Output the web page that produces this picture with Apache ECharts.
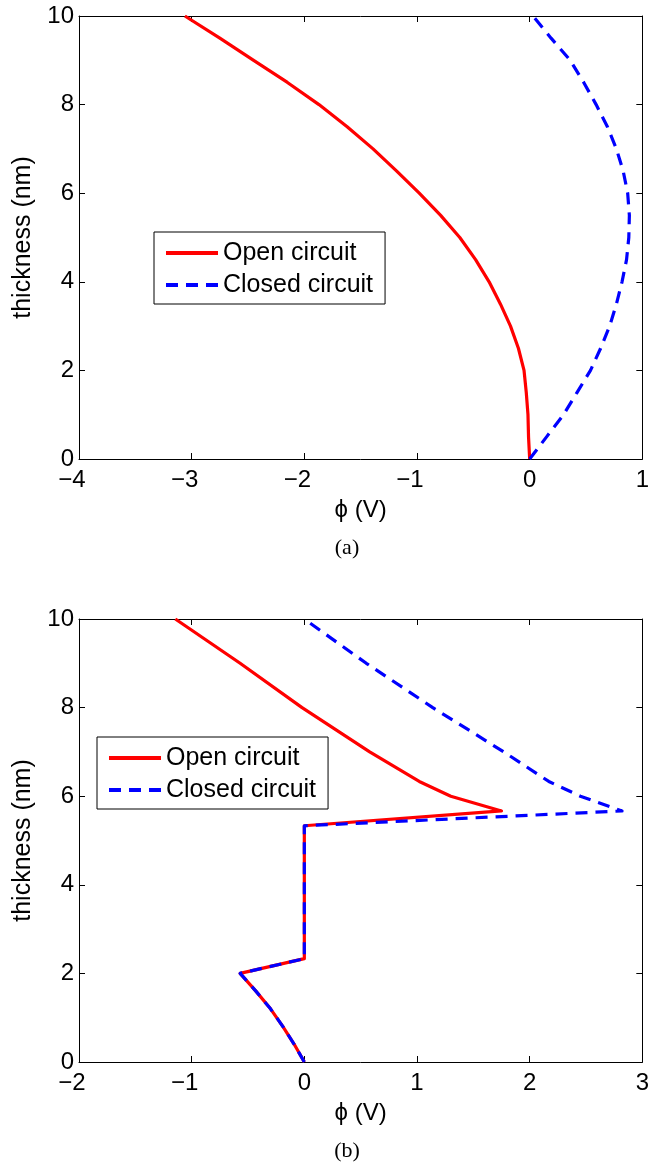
<!DOCTYPE html>
<html>
<head>
<meta charset="utf-8">
<script src="https://cdn.jsdelivr.net/npm/echarts@6/dist/echarts.min.js"></script>
<style>
html,body{margin:0;padding:0;background:#fff;}
#chart{width:652px;height:1172px;}
</style>
</head>
<body>
<div id="chart"></div>
<script>
// ---------- DATA ----------
// (a) thickness grid and potentials
var thicknessA = [0,0.5,1,1.5,2,2.5,3,3.5,4,4.5,5,5.5,6,6.5,7,7.5,8,8.5,9,9.5,10];
var openA   = [0,-0.01,-0.015,-0.03,-0.05,-0.10,-0.17,-0.26,-0.36,-0.48,-0.62,-0.79,-0.98,-1.18,-1.39,-1.62,-1.87,-2.15,-2.45,-2.75,-3.06];
var closedA = [0,0.15,0.30,0.42,0.54,0.63,0.71,0.77,0.82,0.86,0.88,0.885,0.87,0.83,0.77,0.69,0.59,0.48,0.36,0.19,0.03];

// (b)
var thicknessOpenB = [0,0.4,0.8,1.2,1.6,2.0,2.333,5.333,5.667,6.0,6.333,7.0,8.0,9.0,10.0];
var openB          = [0,-0.09,-0.19,-0.30,-0.43,-0.57,0,0,1.75,1.30,1.02,0.58,-0.02,-0.57,-1.145];
var thicknessClosedB = [0,0.4,0.8,1.2,1.6,2.0,2.333,5.333,5.667,6.0,6.333,7.0,8.0,9.0,10.0];
var closedB          = [0,-0.09,-0.19,-0.30,-0.43,-0.57,0,0,2.82,2.45,2.17,1.77,1.14,0.55,0];

var yTicks = [0,2,4,6,8,10];
var xRangeA = [-4,1];
var xRangeB = [-2,3];
var seriesNames = ['Open circuit','Closed circuit'];
var captions = ['(a)','(b)'];

function pairs(xs, ys){ return xs.map(function(x,i){ return [x, ys[i]]; }); }

// ---------- STYLE ----------
var FONT = '"Liberation Sans", Arial, Helvetica, sans-serif';
var TICK_FS = 24;
var NAME_FS = 25;
var RED = '#ff0000', BLUE = '#0000ff';
var LW = 3.2;

var chart = echarts.init(document.getElementById('chart'), null, {renderer:'canvas'});

function tickLabelFmt(v){
  if (v < 0) return '{n|\u2212' + Math.abs(v) + '}';
  return '{p|' + v + '}';
}
var richLab = {
  n:{fontSize:TICK_FS, fontFamily:FONT, color:'#000', padding:[0,14,0,0]},
  p:{fontSize:TICK_FS, fontFamily:FONT, color:'#000'}
};

var grids = [
  {left:79, top:16, width:567, height:443},
  {left:79, top:619, width:567, height:443}
];

function mainX(gi, range){
  return {
    type:'value', gridIndex:gi, position:'bottom', min:range[0], max:range[1], interval:1,
    name:'\u03d5 (V)', nameLocation:'middle', nameGap:39,
    nameTextStyle:{fontSize:TICK_FS, fontFamily:FONT, color:'#000'},
    axisLine:{show:true, onZero:false, lineStyle:{color:'#000', width:1}},
    axisTick:{show:true, inside:true, length:6, lineStyle:{color:'#000'}},
    axisLabel:{show:true, margin:9, formatter:tickLabelFmt, rich:richLab, fontSize:TICK_FS, fontFamily:FONT, color:'#000'},
    splitLine:{show:false}
  };
}
function boxX(gi, range){
  return {
    type:'value', gridIndex:gi, position:'top', min:range[0], max:range[1], interval:1,
    axisLine:{show:true, onZero:false, lineStyle:{color:'#000', width:1}},
    axisTick:{show:true, inside:true, length:6, lineStyle:{color:'#000'}},
    axisLabel:{show:false}, splitLine:{show:false}
  };
}
function mainY(gi){
  return {
    type:'value', gridIndex:gi, position:'left', min:0, max:10, interval:2,
    name:'thickness (nm)', nameLocation:'middle', nameGap:43, nameRotate:90,
    nameTextStyle:{fontSize:NAME_FS, fontFamily:FONT, color:'#000'},
    axisLine:{show:true, onZero:false, lineStyle:{color:'#000', width:1}},
    axisTick:{show:true, inside:true, length:6, lineStyle:{color:'#000'}},
    axisLabel:{show:true, margin:5, fontSize:TICK_FS, fontFamily:FONT, color:'#000',
      formatter:function(v){ return yTicks.indexOf(v) >= 0 ? String(v) : ''; }},
    splitLine:{show:false}
  };
}
function boxY(gi){
  return {
    type:'value', gridIndex:gi, position:'right', min:0, max:10, interval:2,
    axisLine:{show:true, onZero:false, lineStyle:{color:'#000', width:1}},
    axisTick:{show:true, inside:true, length:6, lineStyle:{color:'#000'}},
    axisLabel:{show:false}, splitLine:{show:false}
  };
}

function lineSeries(name, xi, yi, data, color, dashed){
  return {
    name:name, type:'line', xAxisIndex:xi, yAxisIndex:yi, data:data,
    symbol:'none', showSymbol:false, smooth:false, clip:true,
    lineStyle:{color:color, width:LW, type: dashed ? [12,8] : 'solid', cap:'butt', join:'round'},
    itemStyle:{color:color},
    emphasis:{disabled:true}
  };
}

function legendAt(left, top){
  return {
    orient:'vertical', left:left, top:top,
    data:seriesNames,
    backgroundColor:'#fff', borderColor:'#000', borderWidth:1, borderRadius:0,
    padding:[8,12,6,10], itemGap:6, itemWidth:52, itemHeight:14,
    itemStyle:{opacity:0, borderWidth:0},
    lineStyle:{width:4},
    textStyle:{fontSize:25, fontFamily:FONT, color:'#000', lineHeight:26},
    selectedMode:false
  };
}

var option = {
  animation:false,
  backgroundColor:'#fff',
  grid:grids,
  xAxis:[mainX(0, xRangeA), mainX(1, xRangeB), boxX(0, xRangeA), boxX(1, xRangeB)],
  yAxis:[mainY(0), mainY(1), boxY(0), boxY(1)],
  legend:[legendAt(154, 232), legendAt(97, 737)],
  series:[
    lineSeries(seriesNames[0], 0, 0, pairs(openA, thicknessA), RED, false),
    lineSeries(seriesNames[1], 0, 0, pairs(closedA, thicknessA), BLUE, true),
    lineSeries(seriesNames[0], 1, 1, pairs(openB, thicknessOpenB), RED, false),
    lineSeries(seriesNames[1], 1, 1, pairs(closedB, thicknessClosedB), BLUE, true)
  ],
  graphic:[
    {type:'text', x:347, y:548, silent:true, style:{text:captions[0], fontSize:22, fontFamily:'"Liberation Serif", "DejaVu Serif", serif', fill:'#000', align:'center', verticalAlign:'middle', textAlign:'center', textVerticalAlign:'middle'}},
    {type:'text', x:347, y:1151, silent:true, style:{text:captions[1], fontSize:22, fontFamily:'"Liberation Serif", "DejaVu Serif", serif', fill:'#000', align:'center', verticalAlign:'middle', textAlign:'center', textVerticalAlign:'middle'}}
  ]
};
chart.setOption(option);
</script>
</body>
</html>
